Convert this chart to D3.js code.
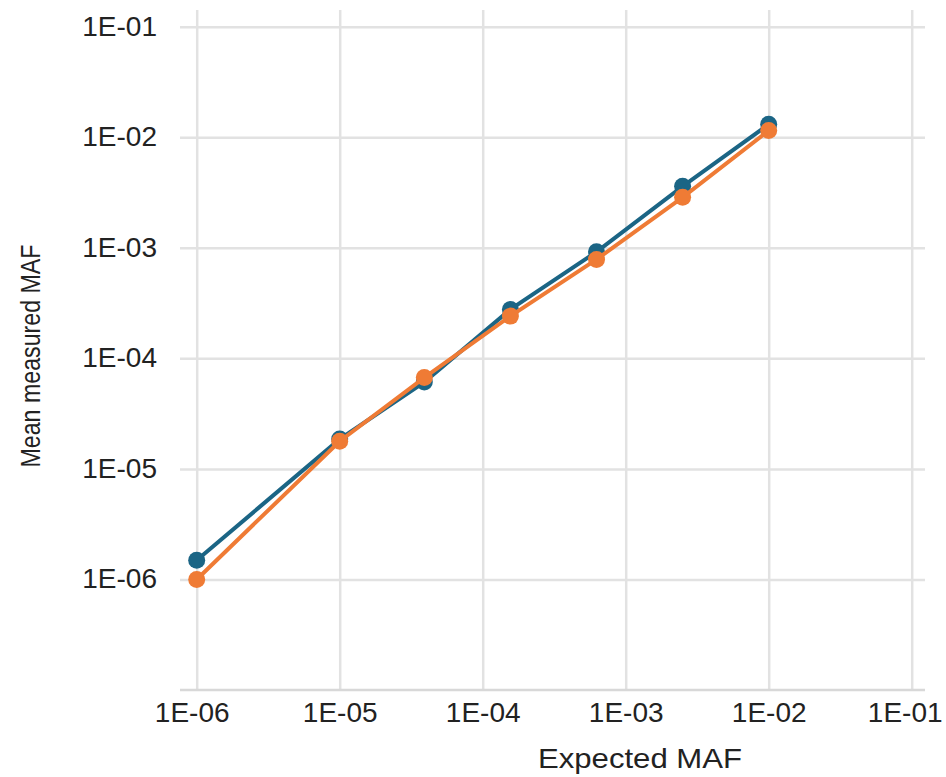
<!DOCTYPE html>
<html>
<head>
<meta charset="utf-8">
<script src="https://cdn.jsdelivr.net/npm/d3@7"></script>
<style>
  body { margin: 0; background: #fff; }
  svg text { font-family: "Liberation Sans", Arial, sans-serif; fill: #222; }
</style>
</head>
<body>
<div id="chart"></div>
<script>
// expected MAF (4x dilution steps plus 1E-05 / 1E-06)
const expected = [1e-6, 1e-5, 3.90625e-5, 1.5625e-4, 6.25e-4, 2.5e-3, 1e-2];
// mean measured MAF
const measuredBlue = [1.49e-6, 1.86e-5, 6.1e-5, 2.77e-4, 9.2e-4, 3.6e-3, 1.31e-2];
const measuredOrange = [1.0e-6, 1.78e-5, 6.7e-5, 2.41e-4, 7.85e-4, 2.86e-3, 1.15e-2];
const xTicks = [1e-6, 1e-5, 1e-4, 1e-3, 1e-2, 1e-1];
const yTicks = [1e-1, 1e-2, 1e-3, 1e-4, 1e-5, 1e-6];

const width = 946;
const height = 777;
const gridColor = '#e2e2e2';

const fmt = (d) => '1E-' + String(Math.round(-Math.log10(d))).padStart(2, '0');

const svg = d3
  .select('#chart')
  .append('svg')
  .attr('width', width)
  .attr('height', height);

const x = d3.scaleLog().domain([1e-6, 1e-1]).range([196.7, 911.7]);
const y = d3.scaleLog().domain([1e-7, 1e-1]).range([690, 26.7]);

const gridLeft = 180;
const gridRight = 925;
const gridTop = 10;

// horizontal grid + y labels
const yAxis = svg
  .append('g')
  .attr('transform', `translate(${gridLeft},0)`)
  .call(
    d3
      .axisLeft(y)
      .tickValues(yTicks)
      .tickSize(-(gridRight - gridLeft))
      .tickPadding(23)
      .tickFormat(fmt),
  );
yAxis.select('.domain').remove();
yAxis.selectAll('.tick line').attr('stroke', gridColor).attr('stroke-width', 2.5);
yAxis.selectAll('.tick text').style('font-size', '28px').attr('dy', '0.3em');

// vertical grid + x labels
const xAxis = svg
  .append('g')
  .attr('transform', `translate(0,${y(1e-7)})`)
  .call(
    d3
      .axisBottom(x)
      .tickValues(xTicks)
      .tickSize(-(y(1e-7) - gridTop))
      .tickPadding(12)
      .tickFormat(fmt),
  );
xAxis.select('.domain').remove();
xAxis.selectAll('.tick line').attr('stroke', gridColor).attr('stroke-width', 2.5);
xAxis
  .selectAll('.tick text')
  .style('font-size', '28px')
  .attr('dx', (d, i) => (i === 0 ? -5 : i === xTicks.length - 1 ? -7 : 0));

// bottom base line
svg
  .append('line')
  .attr('x1', gridLeft)
  .attr('x2', gridRight)
  .attr('y1', y(1e-7))
  .attr('y2', y(1e-7))
  .attr('stroke', '#d8d8d8')
  .attr('stroke-width', 2.5);

// axis titles
svg
  .append('text')
  .attr('x', 640)
  .attr('y', 768)
  .attr('text-anchor', 'middle')
  .attr('textLength', 204)
  .attr('lengthAdjust', 'spacingAndGlyphs')
  .style('font-size', '28px')
  .text('Expected MAF');

svg
  .append('text')
  .attr('transform', 'translate(40,356) rotate(-90)')
  .attr('text-anchor', 'middle')
  .attr('textLength', 223)
  .attr('lengthAdjust', 'spacingAndGlyphs')
  .style('font-size', '28px')
  .text('Mean measured MAF');

// series
const line = d3
  .line()
  .x((d) => x(d.ex))
  .y((d) => y(d.val));

const series = [
  { values: measuredBlue, color: '#1b6585' },
  { values: measuredOrange, color: '#ef7b35' },
];

series.forEach((s) => {
  const pts = expected.map((ex, i) => ({ ex, val: s.values[i] }));
  svg
    .append('path')
    .datum(pts)
    .attr('fill', 'none')
    .attr('stroke', s.color)
    .attr('stroke-width', 4)
    .attr('d', line);
  svg
    .append('g')
    .selectAll('circle')
    .data(pts)
    .join('circle')
    .attr('cx', (d) => x(d.ex))
    .attr('cy', (d) => y(d.val))
    .attr('r', 8.5)
    .attr('fill', s.color);
});
</script>
</body>
</html>
